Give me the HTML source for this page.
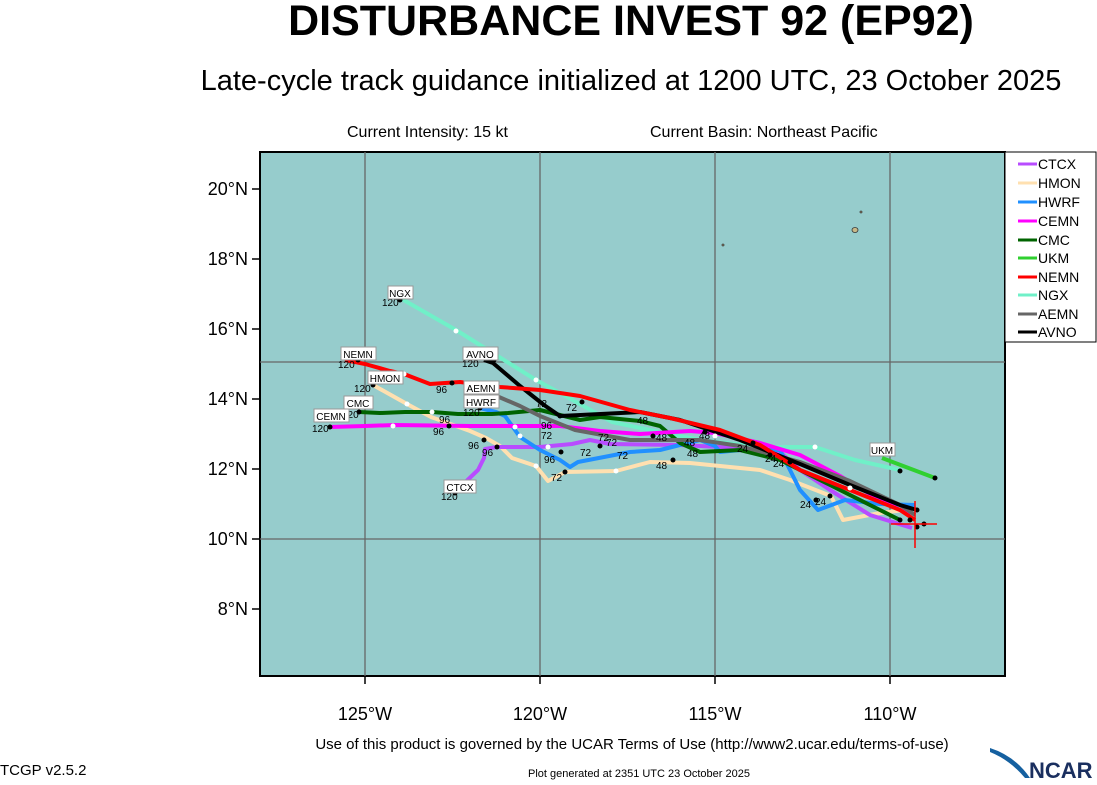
<!DOCTYPE html>
<html><head><meta charset="utf-8"><style>
body{margin:0;background:#fff;width:1097px;height:780px;overflow:hidden}
svg text{font-family:"Liberation Sans",sans-serif}
</style></head><body>
<svg width="1097" height="780" viewBox="0 0 1097 780" xmlns="http://www.w3.org/2000/svg">
<text x="631" y="35" font-size="43" font-weight="bold" text-anchor="middle">DISTURBANCE INVEST 92 (EP92)</text>
<text x="631" y="90" font-size="29" text-anchor="middle">Late-cycle track guidance initialized at 1200 UTC, 23 October 2025</text>
<text x="347" y="137" font-size="16">Current Intensity: 15 kt</text>
<text x="650" y="137" font-size="16">Current Basin: Northeast Pacific</text>
<rect x="260" y="152" width="745" height="524" fill="#96cccc" stroke="#000" stroke-width="2"/>
<g stroke="#666" stroke-width="1.3">
<line x1="365" y1="152" x2="365" y2="676"/><line x1="540" y1="152" x2="540" y2="676"/>
<line x1="715" y1="152" x2="715" y2="676"/><line x1="890" y1="152" x2="890" y2="676"/>
<line x1="260" y1="362" x2="1005" y2="362"/><line x1="260" y1="539" x2="1005" y2="539"/>
</g>
<g stroke="#000" stroke-width="1.5">
<line x1="252" y1="189" x2="260" y2="189"/><line x1="252" y1="259" x2="260" y2="259"/><line x1="252" y1="329" x2="260" y2="329"/><line x1="252" y1="399" x2="260" y2="399"/><line x1="252" y1="469" x2="260" y2="469"/><line x1="252" y1="539" x2="260" y2="539"/><line x1="252" y1="609" x2="260" y2="609"/>
<line x1="365" y1="676" x2="365" y2="684"/><line x1="540" y1="676" x2="540" y2="684"/><line x1="715" y1="676" x2="715" y2="684"/><line x1="890" y1="676" x2="890" y2="684"/>
</g>
<g font-size="18" text-anchor="end">
<text x="248" y="195">20°N</text><text x="248" y="265">18°N</text><text x="248" y="335">16°N</text><text x="248" y="405">14°N</text><text x="248" y="475">12°N</text><text x="248" y="545">10°N</text><text x="248" y="615">8°N</text>
</g>
<g font-size="18" text-anchor="middle">
<text x="365" y="720">125°W</text><text x="540" y="720">120°W</text><text x="715" y="720">115°W</text><text x="890" y="720">110°W</text>
</g>
<g fill="#c8b888" stroke="#333" stroke-width="0.8"><ellipse cx="855" cy="230" rx="3" ry="2.5"/><circle cx="723" cy="245" r="1"/><circle cx="861" cy="212" r="1"/></g>
<g fill="none" stroke-width="4" stroke-linejoin="round">
<polyline stroke="#70f0c8" points="400,298 456,330 536,380 560,393 612,422 650,430 700,440 760,447 815,447 855,460 900,470"/>
<polyline stroke="#ffe0b0" points="373,385 407,404 431,417 470,431 486,438 500,446 512,458 536,466 548,481 565,472 616,471 650,462 690,463 740,468 760,470 790,480 831,496 843,520 880,513 905,510"/>
<polyline stroke="#b84cff" points="455,492 478,470 484,458 485,449 497,447 540,447 572,444 590,440 610,444 680,445 720,447 780,452 800,470 830,490 870,515 912,528"/>
<polyline stroke="#2090ff" points="480,408 496,412 505,416 520,437 540,450 560,460 570,467 578,462 630,452 660,450 700,440 715,446 720,452 740,450 780,450 800,490 818,510 845,500 880,504 915,505"/>
<polyline stroke="#006400" points="359,412 380,413 405,412 432,412 458,414 492,414 508,413 540,410 580,420 600,417 640,421 660,426 680,443 700,452 740,450 780,460 830,485 880,510 900,520"/>
<polyline stroke="#ff00ff" points="330,427 365,426 395,425 470,426 515,426 560,426 600,431 640,434 690,431 715,433 760,443 800,455 840,476 880,500 910,515"/>
<polyline stroke="#666" points="480,393 499,397 520,406 540,416 575,430 630,440 700,440 740,446 800,462 850,481 900,505 915,515"/>
<polyline stroke="#000" points="484,360 493,363 520,386 544,405 560,416 640,412 680,420 740,440 800,464 850,485 900,505 917,510"/>
<polyline stroke="#ff0000" points="345,360 365,364 390,371 404,374 430,384 460,382 500,387 540,390 580,396 630,410 670,418 720,430 760,445 800,470 850,490 900,510 915,520"/>
<polyline stroke="#30d030" points="882,458 935,478"/>
</g>
<g fill="#fff"><circle cx="456" cy="331" r="2.5"/><circle cx="404" cy="374" r="2.5"/><circle cx="407" cy="404" r="2.5"/><circle cx="393" cy="426" r="2.5"/><circle cx="432" cy="412" r="2.5"/><circle cx="536" cy="380" r="2.5"/><circle cx="515" cy="427" r="2.5"/><circle cx="520" cy="436" r="2.5"/><circle cx="548" cy="447" r="2.5"/><circle cx="536" cy="466" r="2.5"/><circle cx="616" cy="471" r="2.5"/><circle cx="715" cy="436" r="2.5"/><circle cx="815" cy="447" r="2.5"/><circle cx="850" cy="488" r="2.5"/></g>
<g fill="#000"><circle cx="400" cy="300" r="2.5"/><circle cx="358" cy="360" r="2.5"/><circle cx="373" cy="385" r="2.5"/><circle cx="359" cy="412" r="2.5"/><circle cx="330" cy="427" r="2.5"/><circle cx="452" cy="383" r="2.5"/><circle cx="449" cy="426" r="2.5"/><circle cx="484" cy="440" r="2.5"/><circle cx="497" cy="447" r="2.5"/><circle cx="480" cy="408" r="2.5"/><circle cx="494" cy="360" r="2.5"/><circle cx="560" cy="416" r="2.5"/><circle cx="582" cy="402" r="2.5"/><circle cx="561" cy="452" r="2.5"/><circle cx="565" cy="472" r="2.5"/><circle cx="600" cy="446" r="2.5"/><circle cx="653" cy="436" r="2.5"/><circle cx="673" cy="460" r="2.5"/><circle cx="705" cy="432" r="2.5"/><circle cx="753" cy="443" r="2.5"/><circle cx="770" cy="455" r="2.5"/><circle cx="790" cy="462" r="2.5"/><circle cx="816" cy="500" r="2.5"/><circle cx="830" cy="496" r="2.5"/><circle cx="900" cy="471" r="2.5"/><circle cx="935" cy="478" r="2.5"/><circle cx="910" cy="520" r="2.5"/><circle cx="917" cy="510" r="2.5"/><circle cx="924" cy="524" r="2.5"/><circle cx="917" cy="527" r="2.5"/><circle cx="900" cy="520" r="2.5"/><circle cx="455" cy="493" r="2.5"/></g>
<g stroke="#ff0000" stroke-width="1.5"><line x1="891" y1="524" x2="937" y2="524"/><line x1="915" y1="501" x2="915" y2="548"/></g>
<g font-size="10">
<text x="382" y="306">120</text><text x="338" y="368">120</text><text x="354" y="392">120</text><text x="342" y="418">120</text><text x="312" y="432">120</text><text x="441" y="500">120</text><text x="462" y="367">120</text><text x="463" y="416">120</text>
<text x="436" y="393">96</text><text x="439" y="423">96</text><text x="433" y="435">96</text><text x="468" y="449">96</text><text x="482" y="456">96</text><text x="544" y="463">96</text><text x="541" y="429">96</text><text x="541" y="439">72</text>
<text x="536" y="407">72</text><text x="566" y="411">72</text><text x="551" y="481">72</text><text x="580" y="456">72</text><text x="606" y="446">72</text><text x="617" y="459">72</text><text x="598" y="441">72</text>
<text x="637" y="424">48</text><text x="656" y="441">48</text><text x="684" y="446">48</text><text x="687" y="457">48</text><text x="656" y="469">48</text><text x="699" y="439">48</text>
<text x="737" y="452">24</text><text x="765" y="462">24</text><text x="773" y="467">24</text><text x="800" y="508">24</text><text x="815" y="505">24</text>
</g>
<g font-size="10" text-anchor="middle">
<g fill="#fff" stroke="#999"><rect x="388" y="286" width="25" height="13"/><rect x="341" y="347" width="35" height="13"/><rect x="368" y="371" width="35" height="13"/><rect x="344" y="396" width="29" height="13"/><rect x="314" y="409" width="35" height="13"/><rect x="463" y="347" width="35" height="13"/><rect x="464" y="381" width="35" height="13"/><rect x="464" y="395" width="35" height="13"/><rect x="444" y="480" width="32" height="13"/><rect x="870" y="443" width="25" height="13"/></g>
<text x="400" y="297">NGX</text><text x="358" y="358">NEMN</text><text x="385" y="382">HMON</text><text x="358" y="407">CMC</text><text x="331" y="420">CEMN</text><text x="480" y="358">AVNO</text><text x="481" y="392">AEMN</text><text x="481" y="406">HWRF</text><text x="460" y="491">CTCX</text><text x="882" y="454">UKM</text>
</g>
<rect x="1005" y="152" width="91" height="190" fill="#fff" stroke="#000"/>
<g stroke-width="3">
<line x1="1018" y1="164" x2="1037" y2="164" stroke="#b84cff"/><line x1="1018" y1="183" x2="1037" y2="183" stroke="#ffe0b0"/><line x1="1018" y1="202" x2="1037" y2="202" stroke="#2090ff"/><line x1="1018" y1="221" x2="1037" y2="221" stroke="#ff00ff"/><line x1="1018" y1="240" x2="1037" y2="240" stroke="#006400"/><line x1="1018" y1="258" x2="1037" y2="258" stroke="#30d030"/><line x1="1018" y1="277" x2="1037" y2="277" stroke="#ff0000"/><line x1="1018" y1="295" x2="1037" y2="295" stroke="#70f0c8"/><line x1="1018" y1="314" x2="1037" y2="314" stroke="#666"/><line x1="1018" y1="332" x2="1037" y2="332" stroke="#000"/>
</g>
<g font-size="14">
<text x="1038" y="169">CTCX</text><text x="1038" y="188">HMON</text><text x="1038" y="207">HWRF</text><text x="1038" y="226">CEMN</text><text x="1038" y="245">CMC</text><text x="1038" y="263">UKM</text><text x="1038" y="282">NEMN</text><text x="1038" y="300">NGX</text><text x="1038" y="319">AEMN</text><text x="1038" y="337">AVNO</text>
</g>
<text x="632" y="749" font-size="15" text-anchor="middle">Use of this product is governed by the UCAR Terms of Use (http://www2.ucar.edu/terms-of-use)</text>
<text x="0" y="775" font-size="15">TCGP v2.5.2</text>
<text x="639" y="777" font-size="11" text-anchor="middle">Plot generated at 2351 UTC  23 October 2025</text>
<path d="M990 752 Q1010 760 1025 778 L1030 778 Q1015 756 990 748Z" fill="#1560a0"/>
<text x="1029" y="778" font-size="22" font-weight="bold" fill="#1a2f5f">NCAR</text>
</svg>
</body></html>
